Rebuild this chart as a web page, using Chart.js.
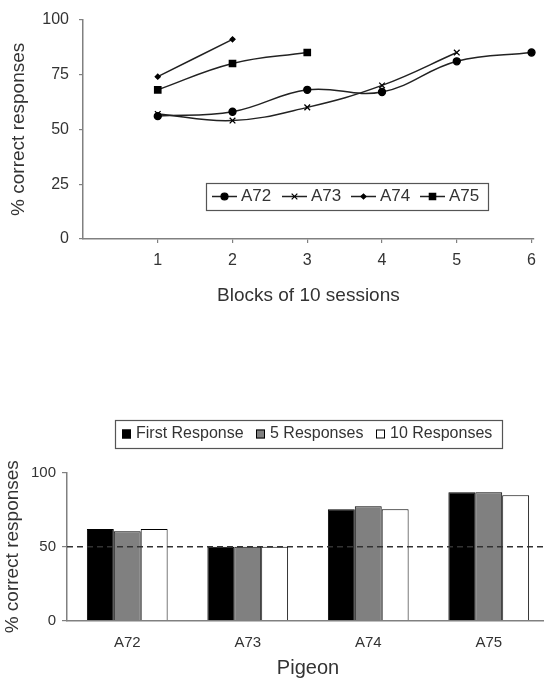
<!DOCTYPE html>
<html>
<head>
<meta charset="utf-8">
<script src="https://cdn.jsdelivr.net/npm/chart.js@4.4.1/dist/chart.umd.min.js"></script>
<style>
    html, body { margin: 0; padding: 0; background: #fff; width: 544px; height: 681px; overflow: hidden; }
    #wrapLine { position: absolute; left: 0; top: 0; width: 544px; height: 310px; }
    #wrapBar { position: absolute; left: 0; top: 400px; width: 549px; height: 281px; }
</style>
</head>
<body>
<div id="wrapLine"><canvas id="lineChart"></canvas></div>
<div id="wrapBar"><canvas id="barChart"></canvas></div>
<script>
// --- Data: top panel (acquisition, % correct per block of 10 sessions) ---
const blocks = [1, 2, 3, 4, 5, 6];
const a72 = [56, 58, 68, 67, 81, 85];
const a73 = [57, 54, 60, 70, 85];
const a74 = [74, 91];
const a75 = [68, 80, 85];
const lineYTicks = [0, 25, 50, 75, 100];

// --- Data: bottom panel (transfer test per pigeon) ---
const pigeons = ['A72', 'A73', 'A74', 'A75'];
const firstResponse = [62, 50, 75.5, 87];
const fiveResponses = [60.5, 50, 77.5, 87];
const tenResponses = [62, 50, 75.5, 85];
const barYTicks = [0, 50, 100];
const chanceLevel = 50;

const FONT = '"Liberation Sans", Arial, Helvetica, sans-serif';
const TEXT = '#333';
const AXIS = '#808080';

(function () {
    // legend drawn inside a framed box, like the original figure
    const boxLegend = {
        id: 'boxLegend',
        afterDraw(chart, args, opts) {
            const ctx = chart.ctx;
            const [l, t, r, b] = opts.box;
            const cy = (t + b) / 2;
            ctx.save();
            ctx.strokeStyle = '#555';
            ctx.lineWidth = 1.2;
            ctx.strokeRect(l + 0.5, t + 0.5, r - l, b - t);
            ctx.font = opts.font;
            ctx.textBaseline = 'middle';
            ctx.textAlign = 'left';
            chart.data.datasets.forEach((ds, i) => {
                const x = opts.itemX[i];
                if (opts.kind === 'line') {
                    ctx.strokeStyle = ds.borderColor;
                    ctx.lineWidth = ds.borderWidth;
                    ctx.beginPath();
                    ctx.moveTo(x, cy);
                    ctx.lineTo(x + opts.sampleW, cy);
                    ctx.stroke();
                    ctx.fillStyle = ds.pointBackgroundColor;
                    ctx.strokeStyle = ds.pointBorderColor;
                    ctx.lineWidth = 1.2;
                    Chart.helpers.drawPoint(ctx, { pointStyle: ds.pointStyle, radius: ds.pointRadius, rotation: 0, borderWidth: 1.2 }, x + opts.sampleW / 2, cy);
                } else {
                    const s = opts.sampleW;
                    ctx.fillStyle = ds.backgroundColor;
                    ctx.fillRect(x, cy - s / 2, s, s);
                    ctx.strokeStyle = '#000';
                    ctx.lineWidth = 1;
                    ctx.strokeRect(x + 0.5, cy - s / 2 + 0.5, s - 1, s - 1);
                }
                ctx.fillStyle = TEXT;
                ctx.fillText(ds.label, x + opts.sampleW + opts.gap, cy);
            });
            ctx.restore();
        }
    };

    // dashed chance line across the bar panel
    const chanceLine = {
        id: 'chanceLine',
        afterDatasetsDraw(chart, args, opts) {
            const { ctx, chartArea } = chart;
            const y = chart.scales.y.getPixelForValue(opts.value);
            ctx.save();
            ctx.strokeStyle = '#333';
            ctx.lineWidth = 1.6;
            ctx.setLineDash([6, 4]);
            ctx.beginPath();
            ctx.moveTo(chartArea.left, y);
            ctx.lineTo(chartArea.right, y);
            ctx.stroke();
            ctx.restore();
        }
    };

    const toPoints = arr => arr.map((v, i) => ({ x: blocks[i], y: v }));
    const lineSet = (label, values, style, radius) => ({
        label: label,
        data: toPoints(values),
        borderColor: '#222',
        borderWidth: 1.5,
        tension: 0.4,
        pointStyle: style,
        pointRadius: radius,
        pointBackgroundColor: '#000',
        pointBorderColor: '#000',
        pointBorderWidth: 1.3,
        clip: 4
    });

    // --- Top chart: line ---
    new Chart(document.getElementById('lineChart'), {
        type: 'line',
        data: {
            datasets: [
                lineSet('A72', a72, 'circle', 3.5),
                lineSet('A73', a73, 'crossRot', 4),
                lineSet('A74', a74, 'rectRot', 2.5),
                lineSet('A75', a75, 'rect', 4.5)
            ]
        },
        options: {
            responsive: true,
            maintainAspectRatio: false,
            animation: false,
            layout: { padding: { top: 15, right: 0, bottom: 0, left: 0 } },
            plugins: {
                legend: { display: false },
                tooltip: { enabled: false },
                boxLegend: {
                    kind: 'line',
                    box: [206, 183, 488, 210],
                    itemX: [212, 282, 351, 420],
                    sampleW: 25,
                    gap: 4,
                    font: '17px ' + FONT
                }
            },
            scales: {
                x: {
                    type: 'linear',
                    min: 0,
                    max: 6.03,
                    afterBuildTicks: s => { s.ticks = blocks.map(v => ({ value: v })); },
                    afterFit: s => { s.height = 71; },
                    grid: { drawOnChartArea: false, tickLength: 4, color: AXIS, lineWidth: 1.2 },
                    border: { color: AXIS, width: 1.5 },
                    ticks: { color: TEXT, font: { family: FONT, size: 16 }, padding: 8, maxRotation: 0 },
                    title: { display: true, text: 'Blocks of 10 sessions', color: TEXT, font: { family: FONT, size: 19 }, padding: { top: 0, bottom: 3 } }
                },
                y: {
                    min: 0,
                    max: 100,
                    afterBuildTicks: s => { s.ticks = lineYTicks.map(v => ({ value: v })); },
                    afterFit: s => { s.width = 83; },
                    grid: { drawOnChartArea: false, tickLength: 4, color: AXIS, lineWidth: 1.2 },
                    border: { color: AXIS, width: 1.5 },
                    ticks: { color: TEXT, font: { family: FONT, size: 16 }, padding: 10 },
                    title: { display: true, text: '% correct responses', color: TEXT, font: { family: FONT, size: 19 }, padding: { top: 7, bottom: 0 } }
                }
            }
        },
        plugins: [boxLegend]
    });

    // --- Bottom chart: grouped bars ---
    const barSet = (label, values, fill) => ({
        label: label,
        data: values,
        backgroundColor: fill,
        borderColor: '#000',
        borderWidth: 1,
        categoryPercentage: 0.67,
        barPercentage: 1
    });

    new Chart(document.getElementById('barChart'), {
        type: 'bar',
        data: {
            labels: pigeons,
            datasets: [
                barSet('First Response', firstResponse, '#000'),
                barSet('5 Responses', fiveResponses, '#808080'),
                barSet('10 Responses', tenResponses, '#fff')
            ]
        },
        options: {
            responsive: true,
            maintainAspectRatio: false,
            animation: false,
            layout: { padding: { top: 73, right: 0, bottom: 0, left: 0 } },
            plugins: {
                legend: { display: false },
                tooltip: { enabled: false },
                chanceLine: { value: chanceLevel },
                boxLegend: {
                    kind: 'bar',
                    box: [115, 20, 502, 48],
                    itemX: [122, 256, 376],
                    sampleW: 9,
                    gap: 5,
                    font: '16px ' + FONT
                }
            },
            scales: {
                x: {
                    afterFit: s => { s.height = 60.5; },
                    grid: { display: false },
                    border: { color: AXIS, width: 1.5 },
                    ticks: { color: TEXT, font: { family: FONT, size: 15 }, padding: 5 },
                    title: { display: true, text: 'Pigeon', color: TEXT, font: { family: FONT, size: 20 }, padding: { top: 0, bottom: 1 } }
                },
                y: {
                    min: 0,
                    max: 100,
                    afterBuildTicks: s => { s.ticks = barYTicks.map(v => ({ value: v })); },
                    afterFit: s => { s.width = 67; },
                    grid: { drawOnChartArea: false, tickLength: 5, color: AXIS, lineWidth: 1.2 },
                    border: { color: AXIS, width: 1.5 },
                    ticks: { color: TEXT, font: { family: FONT, size: 15 }, padding: 6 },
                    title: { display: true, text: '% correct responses', color: TEXT, font: { family: FONT, size: 19 }, padding: { top: 1, bottom: 0 } }
                }
            }
        },
        plugins: [boxLegend, chanceLine]
    });
})();
</script>
</body>
</html>
